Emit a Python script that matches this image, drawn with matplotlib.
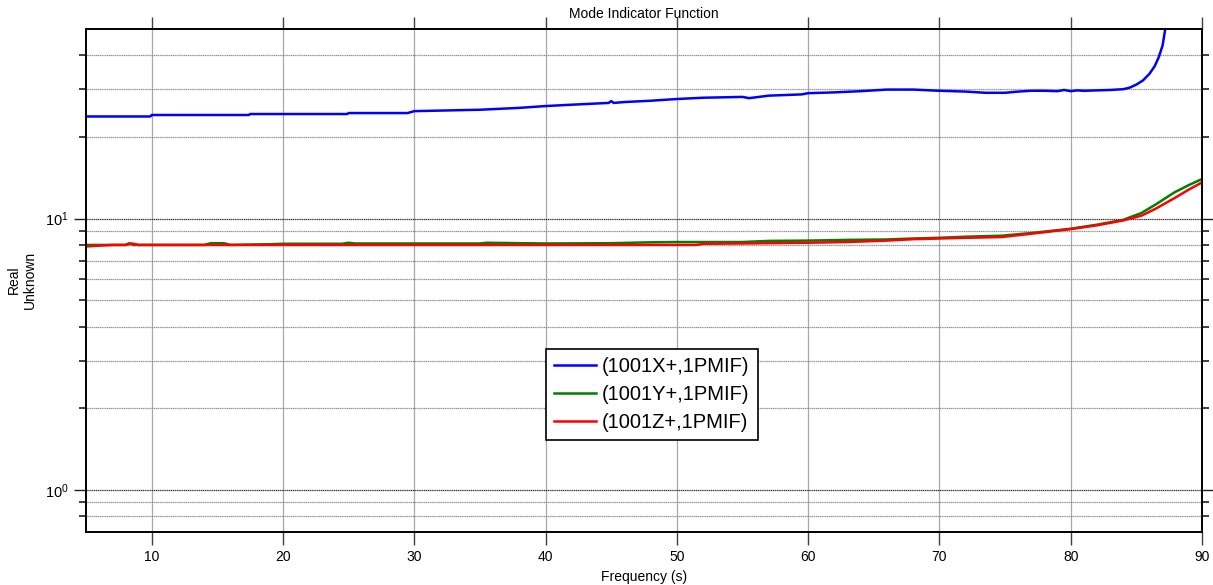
import matplotlib
matplotlib.use("Agg")
import matplotlib.pyplot as plt
from matplotlib.ticker import FixedLocator, NullFormatter, LogFormatterMathtext

plt.rcParams['font.family'] = ['Liberation Sans', 'DejaVu Sans']

# ---- data ----
x_blue = [5, 9.9, 10.0, 17.4, 17.5, 24.9, 25.0, 29.5, 30, 35, 38, 40, 42, 44.8, 45, 45.2, 46, 48, 50, 52,
          55, 55.5, 57, 59.5, 60, 62, 64, 66, 68, 70, 72, 73.5, 75, 76, 77, 78, 79, 79.5, 80, 80.5, 81,
          82, 83, 84, 84.5, 85, 85.5, 86, 86.4, 86.7, 87.0, 87.2]
y_blue = [23.8, 23.8, 24.1, 24.1, 24.3, 24.3, 24.5, 24.5, 24.9, 25.2, 25.6, 26.0, 26.3, 26.7, 27.1, 26.7, 26.9, 27.2, 27.6, 27.9,
          28.1, 27.8, 28.4, 28.7, 29.0, 29.2, 29.5, 29.9, 29.9, 29.6, 29.4, 29.1, 29.1, 29.4, 29.6, 29.6, 29.5, 29.8, 29.5, 29.7, 29.6,
          29.7, 29.8, 30.0, 30.4, 31.2, 32.3, 34.2, 36.5, 39.3, 43.5, 50.0]

x_green = [5, 8, 8.3, 8.6, 14, 14.5, 15.5, 16, 19, 20, 24.5, 25, 25.5, 30, 35, 35.5, 40, 45, 48, 50, 55, 57, 60, 63,
           66, 68, 70, 72, 74.7, 77, 80, 82, 84, 85.4, 86.5, 87.9, 89, 90]
y_green = [8.0, 8.0, 8.12, 8.0, 8.0, 8.12, 8.12, 8.0, 8.05, 8.08, 8.08, 8.15, 8.1, 8.1, 8.1, 8.15, 8.1, 8.12, 8.18, 8.2, 8.2, 8.28, 8.3, 8.35,
           8.38, 8.45, 8.5, 8.58, 8.65, 8.85, 9.18, 9.5, 9.9, 10.5, 11.3, 12.5, 13.3, 14.0]

x_red = [5, 6, 7, 8, 8.5, 9, 10, 15, 20, 25, 30, 35, 40, 45, 50, 51.5, 52, 55, 60, 63, 66, 68, 70, 72, 74.7,
         77, 80, 82, 84, 85.4, 86.5, 87.9, 89, 90]
y_red = [7.9, 7.95, 8.0, 8.0, 8.1, 8.0, 8.0, 8.0, 8.0, 8.0, 8.0, 8.0, 8.0, 8.0, 8.0, 8.0, 8.08, 8.1, 8.15, 8.2, 8.3, 8.4, 8.45, 8.5, 8.55,
         8.8, 9.15, 9.45, 9.85, 10.26, 10.9, 11.9, 12.8, 13.6]

labels = ['(1001X+,1PMIF)', '(1001Y+,1PMIF)', '(1001Z+,1PMIF)']
colors = ['#0000ff', '#008000', '#ff0000']

x_ticks = [10, 20, 30, 40, 50, 60, 70, 80, 90]
y_major = [1, 10]
y_minor = [0.8, 0.9, 2, 3, 4, 5, 6, 7, 8, 9, 20, 30, 40]

fig = plt.figure(figsize=(12.13, 5.85), dpi=100)
ax = fig.add_axes([86/1213, 1 - 532/585, 1116/1213, 503/585])

ax.plot(x_blue, y_blue, color=colors[0], lw=1.8, label=labels[0])
ax.plot(x_green, y_green, color=colors[1], lw=1.8, label=labels[1])
ax.plot(x_red, y_red, color=colors[2], lw=1.8, label=labels[2])

ax.set_yscale('log')
ax.set_xlim(5, 90)
ax.set_ylim(0.7, 50)

ax.xaxis.set_major_locator(FixedLocator(x_ticks))
ax.yaxis.set_major_locator(FixedLocator(y_major))
ax.yaxis.set_minor_locator(FixedLocator(y_minor))
ax.yaxis.set_major_formatter(LogFormatterMathtext())
ax.yaxis.set_minor_formatter(NullFormatter())

ax.grid(True, which='major', axis='x', color='#a8a8a8', lw=0.9)
ax.grid(True, which='major', axis='y', color='#303030', lw=0.9, ls=(0, (1, 0.5)))
ax.grid(True, which='minor', axis='y', color='#909090', lw=0.9, ls=(0, (1, 0.5)))

ax.tick_params(axis='x', which='major', direction='out', length=9, width=1, top=True, bottom=True,
               labelsize=10, color='#404040', pad=4)
ax.tick_params(axis='y', which='major', direction='out', length=9, width=1, left=True, right=True,
               labelsize=10.5, color='#202020')
ax.tick_params(axis='y', which='minor', direction='out', length=5, width=1.2, left=True, right=True,
               color='#202020')

for s in ax.spines.values():
    s.set_linewidth(1.4)
    s.set_color('black')

ax.set_title('Mode Indicator Function', fontsize=10, pad=8)
ax.set_xlabel('Frequency (s)', fontsize=10, labelpad=4)
fig.text(22/1213, 1 - 280/585, 'Real\nUnknown', rotation=90, ha='center', va='center',
         multialignment='center', fontsize=10)

leg = ax.legend(loc='lower left', bbox_to_anchor=(0.412, 0.183), fontsize=14.5, frameon=True,
                fancybox=False, edgecolor='black', framealpha=1, handlelength=2.1,
                borderpad=0.4, labelspacing=0.45, handletextpad=0.3, borderaxespad=0)
leg.get_frame().set_linewidth(1.2)

fig.savefig('out.png', dpi=100)
